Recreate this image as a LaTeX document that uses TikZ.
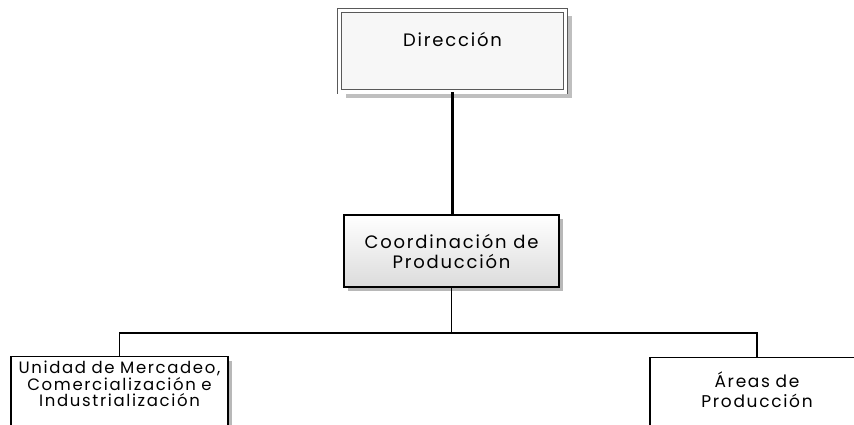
\documentclass[tikz,border=0pt]{standalone}
\usepackage{fontspec}
\setmainfont{Poppins}[LetterSpace=10]
\usetikzlibrary{shadows}
\begin{document}
\begin{tikzpicture}[x=1pt,y=1pt,
  shad/.style={drop shadow={shadow xshift=4pt,shadow yshift=-4pt,fill=black!28,opacity=1}},
  box/.style={draw=black,line width=1.4pt,inner sep=0pt,align=center,shad},
  conn/.style={draw=black,line width=1.3pt},
]
\useasboundingbox (0,0) rectangle (854,425);
\clip (0,0) rectangle (854,425);
\fill[white] (0,0) rectangle (854,425);
% Direccion
\node[draw=black!65,line width=0.8pt,double=white,double distance=3.4pt,fill=black!3,
  inner sep=0pt,text width=226pt,align=center,text height=36pt,text depth=45.5pt,
  drop shadow={shadow xshift=6pt,shadow yshift=-6pt,fill=black!25,opacity=1},
  anchor=north,font=\fontsize{18}{20}\selectfont] (dir) at (452.5,415) {Dirección};
% Coordinacion
\node[box,top color=white,bottom color=black!14,minimum width=215pt,minimum height=72pt,
  font=\fontsize{18}{20}\selectfont] (coord) at (451.5,174) {Coordinación de\\Producción};
% bottom boxes
\node[box,fill=white,text width=217pt,anchor=north,text height=17pt,text depth=60pt,
  font=\fontsize{16.5}{16.5}\selectfont] (uni) at (119.5,69)
  {Unidad de Mercadeo,\\Comercialización e\\Industrialización};
\node[box,fill=white,text width=214pt,anchor=north,text height=30pt,text depth=60pt,
  font=\fontsize{17}{20}\selectfont] (areas) at (757,68)
  {Áreas de\\Producción};
% connectors
\draw[line width=3pt] (dir.south) -- (dir.south |- coord.north);
\coordinate (bus) at (451.5,92);
\draw[conn] (coord.south) -- (bus);
\draw[conn] (uni.north) |- (bus) -| (areas.north);
\end{tikzpicture}
\end{document}
